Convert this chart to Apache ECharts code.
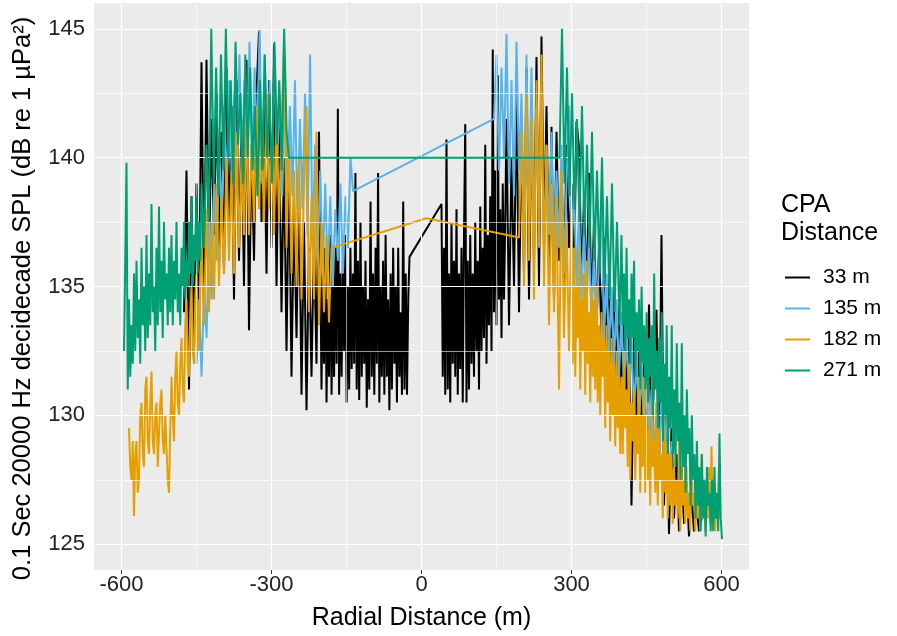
<!DOCTYPE html>
<html>
<head>
<meta charset="utf-8">
<script src="https://cdn.jsdelivr.net/npm/echarts@6/dist/echarts.min.js"></script>
<style>html,body{margin:0;padding:0;background:#fff;}#c{width:897px;height:636px;}</style>
</head>
<body>
<div id="c"></div>
<script>
// ---- DATA ----
const seriesNames = ['33 m', '135 m', '182 m', '271 m'];
const xTicks = [-600, -300, 0, 300, 600];
const yTicks = [125, 130, 135, 140, 145];
const xMinor = [-450, -150, 150, 450];
const yMinor = [127.5, 132.5, 137.5, 142.5];

// 33 m (black): segments with their x extents in metres
const blackLeftAX = [-475, -205];
const blackLeftA = [134.0,139.5,131.0,138.5,132.5,139.0,133.5,143.7,134.5,143.8,136.0,141.5,137.0,142.5,136.5,141.0,135.5,143.5,137.0,142.0,134.5,143.0,136.0,141.5,135.0,143.8,133.3,140.5,136.0,142.5,144.9,137.5,142.0,135.5,143.0,136.5,144.4,135.0,141.5,134.0,140.0,132.5,139.5,131.5,138.0,133.0,139.0,130.8,137.5,130.2,136.5,131.5,137.0,132.0,141.0];
const blackLeftBX = [-200, -24];
const blackLeftB = [131.0,135.5,132.0,136.5,130.5,134.5,131.5,137.0,130.8,135.0,131.5,136.5,132.0,141.9,130.8,135.5,131.5,136.0,132.5,137.0,130.5,135.0,131.0,136.5,131.8,135.5,132.0,139.4,131.0,136.0,130.6,137.5,131.5,135.0,132.0,136.0,130.3,134.5,131.0,138.3,131.5,135.5,130.8,136.5,132.0,139.4,130.5,135.0,131.5,136.0,130.8,137.0,131.5,134.5,130.2,135.5,131.0,136.5,132.0,135.0,130.5,136.5,131.5,134.0,130.8,138.3,131.0,135.5,130.8,134.5,136.15];
const blackRightAX = [40, 170];
const blackRightA = [138.2,131.5,136.5,130.8,140.7,131.0,135.5,130.5,137.5,132.0,136.0,131.5,138.0,130.8,135.5,131.8,136.5,130.5,137.0,141.3,130.5,136.0,131.0,137.0,132.0,135.5,131.5,137.5,132.5,136.0,131.0,138.1,132.5,136.5,133.0,140.5,132.0,137.0,133.5,138.5,132.5,144.2,134.0,139.5,133.5,143.2,134.5,138.0,133.0,139.0,134.5,137.5,141.5];
const blackRightBX = [175, 560];
const blackRightB = [133.5,140.0,135.0,142.5,134.0,141.0,135.5,143.5,134.5,141.5,136.0,143.9,135.0,144.7,136.5,142.0,135.5,141.2,134.5,141.0,136.0,139.5,135.0,140.5,136.5,139.0,135.5,141.4,140.4,135.0,138.5,134.5,139.4,134.0,137.5,133.5,136.5,133.0,136.9,132.5,135.5,132.0,135.1,131.5,134.5,131.0,134.0,130.5,133.6,126.5,133.0,130.0,132.5,129.5,132.0,129.0,134.3,128.5,131.5,134.1,127.5,137.0,126.5,130.5,125.4,129.5,126.0,128.5,125.5,128.0,125.8,127.5,125.3,127.0,125.5,126.5,125.5,126.0];

// 135 m (blue)
const blueLeftX = [-450, -137];
const blueLeft = [132.0,134.5,131.5,135.0,133.0,137.5,134.5,139.0,136.0,140.5,137.5,142.0,138.5,143.0,139.0,142.5,138.5,144.0,139.5,143.0,140.0,144.5,139.5,143.5,140.5,145.0,139.0,144.0,140.0,143.0,139.5,144.0,140.0,142.5,138.5,143.5,139.0,142.0,138.5,143.0,137.5,141.5,138.0,142.5,137.0,144.0,136.5,140.5,136.0,139.5,135.5,139.0,135.5,138.5,135.0,138.0,136.0,139.0,135.5,138.5,136.5,140.0,138.7];
const blueRightX = [145, 500];
const blueRight = [141.5,144.0,139.5,143.5,140.0,144.8,139.0,143.0,138.5,144.5,139.5,142.5,137.5,144.0,138.0,143.5,137.0,142.0,137.5,141.5,136.5,140.5,137.0,141.0,136.0,139.5,136.5,140.5,135.5,139.0,142.0,136.0,139.0,135.0,138.0,134.5,137.5,134.0,137.0,133.5,136.5,133.5,136.0,138.8,133.0,135.5,132.5,135.0,132.0,134.5,131.5,134.0,131.0,133.5,130.5,133.0,130.0,132.5,129.5,132.0,129.5,131.5,129.0,131.0,128.5,130.5,128.0,131.0,128.0,130.0,127.5,129.0];

// 182 m (orange)
const orangeLeftAX = [-585, -440];
const orangeLeftA = [129.5,128.0,127.5,129.0,126.1,128.5,129.0,127.0,127.5,130.0,130.5,128.5,128.0,131.0,131.5,129.0,128.5,130.5,131.7,129.0,128.5,130.0,130.5,128.0,128.0,130.5,131.0,129.0,128.5,130.0,130.0,127.5,127.0,129.5,131.5,130.0,129.0,131.5,132.5,130.5,130.0,132.0,133.0,131.0,130.5,133.5,134.5,132.0,131.5,134.0,135.0,132.5,132.0,134.5,135.5,133.0,132.5,135.5,136.5];
const orangeLeftBX = [-435, -180];
const orangeLeftB = [133.5,138.0,134.0,137.5,134.5,139.0,135.0,138.5,135.5,140.0,136.0,139.5,135.5,141.0,136.5,140.0,137.0,141.5,137.0,140.5,137.5,142.0,138.0,141.0,137.5,142.5,138.0,141.5,137.0,142.0,137.5,141.0,144.5,136.5,140.5,135.5,139.5,135.0,140.0,134.5,139.0,142.0,134.0,138.5,134.5,141.0,133.5,137.5,134.0,137.0,133.6,136.5];
const orangeMidX = [10];
const orangeMid = [137.65];
const orangeRightAX = [195, 295];
const orangeRightA = [136.9,141.0,135.0,142.5,136.0,141.5,134.5,143.0,136.5,144.0,135.0,140.5,133.5,139.0,134.0,138.5,131.0,139.5,133.0,137.5,132.5];
const orangeRightBX = [300, 600];
const orangeRightB = [138.0,132.0,136.5,131.5,135.0,133.0,136.5,131.0,134.5,132.5,135.5,130.8,136.0,132.0,134.0,130.5,135.0,131.5,134.5,131.0,135.0,130.5,133.5,130.0,134.0,131.5,133.0,129.5,133.5,130.5,132.5,129.0,133.0,130.0,132.0,128.8,132.5,129.5,131.5,128.5,131.5,128.5,132.5,129.5,131.0,128.0,132.0,127.5,130.5,129.0,131.0,127.5,130.0,128.5,131.5,127.0,130.0,128.0,131.5,127.0,130.0,127.5,129.5,126.5,130.5,128.0,129.0,127.0,130.5,126.5,129.5,127.5,128.5,126.0,130.0,127.0,129.0,126.0,128.5,126.5,128.5,125.8,128.0,126.5,127.5,126.0,129.0,125.5,128.0,126.5,127.5,125.8,128.0,126.0,127.0,125.5,128.5,126.5,127.0,125.5,127.0,126.0,128.0,125.5,128.5,126.5,127.5,125.5,127.0,126.0,128.0,125.8,128.8,126.0,127.5,125.5,127.0,126.0,128.0,126.0,126.5];

// 271 m (green)
const greenLeftAX = [-595, -440];
const greenLeftA = [132.5,136.0,139.8,131.0,134.5,131.5,133.5,132.0,135.5,132.5,136.0,133.0,134.5,132.0,136.5,133.5,135.0,132.5,137.0,133.0,135.5,133.5,138.2,134.0,135.0,132.5,136.5,133.5,138.1,134.0,136.0,133.0,137.5,134.5,135.5,133.5,136.5,134.0,137.0,133.5,136.0,134.5,137.5,134.0,135.5,133.5,136.5,135.0,137.5,134.5,136.0,135.0,137.5,135.5,138.5,135.0,137.0,136.0,138.5,135.5,137.5,136.0,139.0];
const greenLeftBX = [-435, -265];
const greenLeftB = [136.5,140.5,137.5,145.0,139.0,143.5,138.5,144.0,139.5,145.0,140.0,143.0,139.0,144.5,140.5,142.5,139.0,144.0,140.0,143.5,139.5,142.0,138.5,143.0,139.5,144.0,140.0,142.5,139.0,144.5,140.5,143.0,139.5,145.0,141.0,140.0];
const greenRightAX = [276, 396];
const greenRightA = [140.0,145.0,139.0,143.5,138.5,142.5,138.0,141.5,137.5,142.0,137.0,140.5,136.5,141.0,136.0,139.5,135.5,140.0,135.0,138.5,134.5,139.0,134.0,137.5,133.5];
const greenRightBX = [400, 601];
const greenRightB = [137.0,133.5,135.5,132.5,136.5,133.0,134.5,132.0,135.5,133.0,136.0,131.5,134.0,132.5,134.5,131.0,135.0,132.0,133.5,131.0,134.0,130.5,133.0,131.5,133.5,130.0,135.5,131.0,132.5,129.5,133.0,130.5,134.0,129.0,132.0,130.0,133.5,128.5,131.5,129.5,133.5,128.5,131.0,128.0,132.8,129.0,130.5,127.5,132.8,128.0,130.0,127.0,131.0,128.5,129.5,126.5,130.0,127.5,128.5,126.0,129.0,126.5,128.0,125.5,128.5,126.0,127.5,125.3,128.0,126.5,127.0,125.5,127.5,125.5,128.0,126.0,127.0,125.5,129.3,126.0,125.2];

// ---- build [x, y] pairs spread evenly over each segment's x extent ----
function seg(ext, vals) {
  const n = vals.length;
  if (n === 1) return [[ext[0], vals[0]]];
  return vals.map((v, i) => [ext[0] + (ext[1] - ext[0]) * i / (n - 1), v]);
}
const dataBlack = seg(blackLeftAX, blackLeftA).concat(seg(blackLeftBX, blackLeftB), seg(blackRightAX, blackRightA), seg(blackRightBX, blackRightB));
const dataBlue = seg(blueLeftX, blueLeft).concat(seg(blueRightX, blueRight));
const dataOrange = seg(orangeLeftAX, orangeLeftA).concat(seg(orangeLeftBX, orangeLeftB), seg(orangeMidX, orangeMid), seg(orangeRightAX, orangeRightA), seg(orangeRightBX, orangeRightB));
const dataGreen = seg(greenLeftAX, greenLeftA).concat(seg(greenLeftBX, greenLeftB), seg(greenRightAX, greenRightA), seg(greenRightBX, greenRightB));

const colors = ['#000000', '#56B4E9', '#E69F00', '#009E73'];
const allData = [dataBlack, dataBlue, dataOrange, dataGreen];

const chart = echarts.init(document.getElementById('c'), null, {renderer: 'canvas'});
const FONT = 'Liberation Sans, Arial, sans-serif';

const gridMarks = [];
xTicks.forEach(v => gridMarks.push({xAxis: v, lineStyle: {width: 1.2}}));
yTicks.forEach(v => gridMarks.push({yAxis: v, lineStyle: {width: 1.2}}));
xMinor.forEach(v => gridMarks.push({xAxis: v, lineStyle: {width: 0.6}}));
yMinor.forEach(v => gridMarks.push({yAxis: v, lineStyle: {width: 0.6}}));

const series = [{
  name: 'grid', type: 'line', data: [], z: 1, silent: true,
  markLine: {
    silent: true, symbol: ['none', 'none'], label: {show: false}, animation: false,
    lineStyle: {color: '#ffffff', type: 'solid'},
    emphasis: {disabled: true},
    data: gridMarks
  }
}];
seriesNames.forEach((n, i) => {
  series.push({
    name: n, type: 'line', data: allData[i], showSymbol: false, symbol: 'none',
    z: 2 + i, clip: true,
    lineStyle: {color: colors[i], width: 2.0},
    itemStyle: {color: colors[i]},
    emphasis: {disabled: true}
  });
});

chart.setOption({
  animation: false,
  backgroundColor: '#ffffff',
  textStyle: {fontFamily: FONT},
  grid: {left: 94, right: 148, top: 3, bottom: 66, show: true, backgroundColor: '#EBEBEB', borderWidth: 0},
  title: {
    text: 'CPA\nDistance', left: 776, top: 186,
    textStyle: {fontFamily: FONT, fontSize: 25, fontWeight: 'normal', color: '#000', lineHeight: 28}
  },
  legend: {
    data: seriesNames, orient: 'vertical', left: 780, top: 262,
    icon: 'rect', itemWidth: 25, itemHeight: 2, itemGap: 10,
    textStyle: {fontFamily: FONT, fontSize: 21, color: '#000', lineHeight: 21, padding: [0, 0, 0, 8]},
    selectedMode: false
  },
  xAxis: {
    type: 'value', min: -655, max: 655,
    name: 'Radial Distance (m)', nameLocation: 'middle', nameGap: 36,
    nameTextStyle: {fontFamily: FONT, fontSize: 25, color: '#000'},
    axisLine: {show: false},
    axisTick: {show: true, length: 4, lineStyle: {color: '#333'}, customValues: xTicks},
    axisLabel: {customValues: xTicks, fontFamily: FONT, fontSize: 22, color: '#222', margin: 4},
    splitLine: {show: false}, minorSplitLine: {show: false}
  },
  yAxis: {
    type: 'value', min: 124, max: 146,
    name: '0.1 Sec 20000 Hz decidecade SPL (dB re 1 µPa²)', nameLocation: 'middle', nameGap: 58,
    nameRotate: 90,
    nameTextStyle: {fontFamily: FONT, fontSize: 25.5, color: '#000', padding: [0, 24, 0, 0]},
    axisLine: {show: false},
    axisTick: {show: true, length: 5, lineStyle: {color: '#333'}, customValues: yTicks},
    axisLabel: {customValues: yTicks, fontFamily: FONT, fontSize: 22, color: '#222', margin: 9},
    splitLine: {show: false}, minorSplitLine: {show: false}
  },
  series: series
});
</script>
</body>
</html>
